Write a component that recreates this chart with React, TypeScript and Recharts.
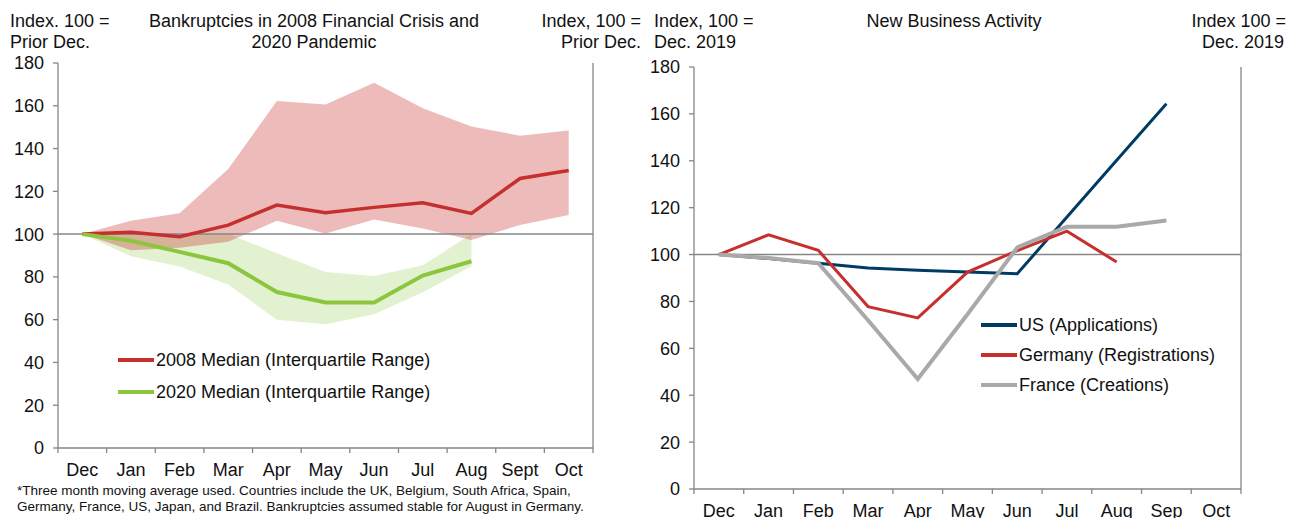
import { ComposedChart, LineChart, Line, Area, XAxis, YAxis, ReferenceLine } from 'recharts'

const FONT = '"Liberation Sans", Arial, sans-serif'
const AXIS_GREY = '#868686'
const RED = '#C5302E'
const GREEN = '#8CC63F'
const NAVY = '#003B64'
const GREY = '#A9A9A9'

// left panel: bankruptcies, index 100 = prior Dec
const monthsCrisis = ['Dec', 'Jan', 'Feb', 'Mar', 'Apr', 'May', 'Jun', 'Jul', 'Aug', 'Sept', 'Oct']
const median2008 = [100, 100.9, 98.8, 104.2, 113.6, 110, 112.5, 114.7, 109.7, 126, 129.7]
const low2008 = [100, 92.4, 93.6, 96.4, 106.2, 100.3, 106.8, 102.6, 97.3, 104.3, 108.9]
const high2008 = [100, 106.2, 109.8, 130.5, 162.2, 160.6, 170.8, 158.8, 150.3, 146, 148.4]
const median2020 = [100, 96.9, 91.7, 86.4, 72.9, 68, 68, 80.6, 87.3, null, null]
const low2020 = [100, 89.6, 84.8, 76.4, 60, 57.8, 62.5, 72.8, 85, null, null]
const high2020 = [100, 100, 100, 100, 91, 82.3, 80.4, 85.4, 100, null, null]

// right panel: new business activity, index 100 = Dec 2019
const monthsBiz = ['Dec', 'Jan', 'Feb', 'Mar', 'Apr', 'May', 'Jun', 'Jul', 'Aug', 'Sep', 'Oct']
const usApps = [100, 98.3, 96.3, 94.3, 93.3, 92.6, 91.8, 116, 140.2, 164.3, null]
const germanyRegs = [100, 108.4, 101.8, 77.8, 73, 92.5, 101.7, 110, 96.8, null, null]
const franceCreations = [100, 98.5, 96.3, 72, 46.9, 74.5, 103, 111.9, 111.9, 114.5, null]

const yTicks = [0, 20, 40, 60, 80, 100, 120, 140, 160, 180]

const crisisData = monthsCrisis.map((m, i) => ({
  month: m,
  m2008: median2008[i],
  band2008: [low2008[i], high2008[i]],
  m2020: median2020[i],
  band2020: low2020[i] != null ? [low2020[i], high2020[i]] : null,
}))

const bizData = monthsBiz.map((m, i) => ({
  month: m,
  us: usApps[i],
  de: germanyRegs[i],
  fr: franceCreations[i],
}))

// month label centred in its band, tick marks on the band edges
function monthTick(step: number, last: string) {
  return (props: any) => {
    const { x, y, payload } = props
    return (
      <g>
        <line x1={x - step / 2} x2={x - step / 2} y1={y} y2={y + 5} stroke={AXIS_GREY} strokeWidth={1.3} />
        {payload.value === last && (
          <line x1={x + step / 2} x2={x + step / 2} y1={y} y2={y + 5} stroke={AXIS_GREY} strokeWidth={1.3} />
        )}
        <text x={x} y={y + 28} textAnchor="middle" fontSize={18} fill="#111" fontFamily={FONT}>{payload.value}</text>
      </g>
    )
  }
}

const yTick = { fontSize: 18, fill: '#111', fontFamily: FONT }
const axisLine = { stroke: AXIS_GREY, strokeWidth: 1.3 }

const abs = (left: number, top: number, extra: any = {}) => ({ position: 'absolute' as const, left, top, lineHeight: '20px', whiteSpace: 'nowrap' as const, ...extra })

function LegendRow({ x, y, color, label }: { x: number; y: number; color: string; label: string }) {
  return (
    <>
      <div style={{ position: 'absolute', left: x, top: y - 2, width: 36, height: 4, background: color }} />
      <div style={abs(x + 38, y - 10)}>{label}</div>
    </>
  )
}

export default function App() {
  const leftStep = 535 / 11
  const rightStep = 547 / 11
  return (
    <div style={{ position: 'absolute', left: 0, top: 0, width: 1290, height: 518, background: '#fff', fontFamily: FONT, fontSize: 18, color: '#111', overflow: 'hidden' }}>
      <div style={{ position: 'absolute', left: 0, top: 0 }}>
        <ComposedChart width={640} height={518} data={crisisData} margin={{ top: 63, right: 0, bottom: 40, left: 8 }}>
          <XAxis dataKey="month" height={30} interval={0} tickSize={0} tickMargin={0} tickLine={false} axisLine={axisLine}
            padding={{ left: leftStep / 2, right: leftStep / 2 }} tick={monthTick(leftStep, 'Oct')} />
          <YAxis yAxisId="l" domain={[0, 180]} ticks={yTicks} width={50} tick={yTick} tickSize={5} tickMargin={9} axisLine={axisLine} tickLine={axisLine} />
          <YAxis yAxisId="r" orientation="right" domain={[0, 180]} ticks={yTicks} width={47} tick={yTick} tickSize={5} tickMargin={7} axisLine={axisLine} tickLine={axisLine} />
          <Area yAxisId="l" dataKey="band2020" stroke="none" fill={GREEN} fillOpacity={0.25} isAnimationActive={false} />
          <Area yAxisId="l" dataKey="band2008" stroke="none" fill={RED} fillOpacity={0.33} isAnimationActive={false} />
          <ReferenceLine yAxisId="l" y={100} stroke={AXIS_GREY} strokeWidth={1.5} />
          <Line yAxisId="l" dataKey="m2008" stroke={RED} strokeWidth={3.5} dot={false} isAnimationActive={false} />
          <Line yAxisId="l" dataKey="m2020" stroke={GREEN} strokeWidth={4} dot={false} isAnimationActive={false} />
        </ComposedChart>
      </div>

      <div style={{ position: 'absolute', left: 640, top: 0 }}>
        <LineChart width={650} height={518} data={bizData} margin={{ top: 67, right: 4, bottom: 0, left: 8 }}>
          <XAxis dataKey="month" height={29} interval={0} tickSize={0} tickMargin={0} tickLine={false} axisLine={axisLine}
            padding={{ left: rightStep / 2, right: rightStep / 2 }} tick={monthTick(rightStep, 'Oct')} />
          <YAxis yAxisId="l" domain={[0, 180]} ticks={yTicks} width={46} tick={yTick} tickSize={5} tickMargin={9} axisLine={axisLine} tickLine={axisLine} />
          <YAxis yAxisId="r" orientation="right" domain={[0, 180]} ticks={yTicks} width={45} tick={yTick} tickSize={5} tickMargin={8} axisLine={axisLine} tickLine={axisLine} />
          <ReferenceLine yAxisId="l" y={100} stroke={AXIS_GREY} strokeWidth={1.5} />
          <Line yAxisId="l" dataKey="us" stroke={NAVY} strokeWidth={3} dot={false} isAnimationActive={false} />
          <Line yAxisId="l" dataKey="de" stroke={RED} strokeWidth={3} dot={false} isAnimationActive={false} />
          <Line yAxisId="l" dataKey="fr" stroke={GREY} strokeWidth={4} dot={false} isAnimationActive={false} />
        </LineChart>
      </div>

      {/* left panel headings */}
      <div style={abs(10, 11)}>Index. 100 =</div>
      <div style={abs(10, 32)}>Prior Dec.</div>
      <div style={abs(130, 11, { width: 368, textAlign: 'center' })}>Bankruptcies in 2008 Financial Crisis and</div>
      <div style={abs(130, 32, { width: 368, textAlign: 'center' })}>2020 Pandemic</div>
      <div style={abs(490, 11, { width: 151, textAlign: 'right' })}>Index, 100 =</div>
      <div style={abs(490, 32, { width: 151, textAlign: 'right' })}>Prior Dec.</div>

      {/* right panel headings */}
      <div style={abs(654, 11)}>Index, 100 =</div>
      <div style={abs(654, 32)}>Dec. 2019</div>
      <div style={abs(800, 11, { width: 308, textAlign: 'center' })}>New Business Activity</div>
      <div style={abs(1130, 11, { width: 156, textAlign: 'right' })}>Index 100 =</div>
      <div style={abs(1130, 32, { width: 154, textAlign: 'right' })}>Dec. 2019</div>

      <LegendRow x={118} y={360} color={RED} label="2008 Median (Interquartile Range)" />
      <LegendRow x={118} y={392} color={GREEN} label="2020 Median (Interquartile Range)" />

      <LegendRow x={981} y={325} color={NAVY} label="US (Applications)" />
      <LegendRow x={981} y={355} color={RED} label="Germany (Registrations)" />
      <LegendRow x={981} y={385} color={GREY} label="France (Creations)" />

      <div style={{ position: 'absolute', left: 17, top: 483, fontSize: 13.5, lineHeight: '16px', whiteSpace: 'nowrap' }}>
        *Three month moving average used. Countries include the UK, Belgium, South Africa, Spain,<br />
        Germany, France, US, Japan, and Brazil. Bankruptcies assumed stable for August in Germany.
      </div>
    </div>
  )
}
